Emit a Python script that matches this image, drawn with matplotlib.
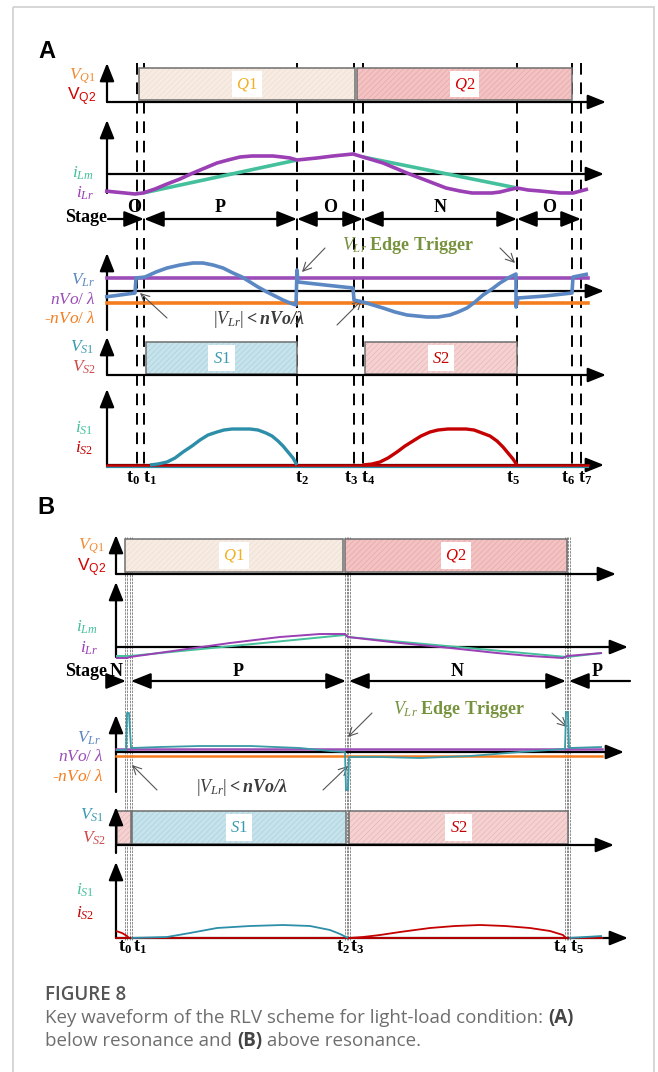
import matplotlib
matplotlib.use('Agg')
import matplotlib.pyplot as plt
from matplotlib.patches import Rectangle

plt.rcParams['mathtext.fontset'] = 'custom'
plt.rcParams['mathtext.rm'] = 'Liberation Serif'
plt.rcParams['mathtext.it'] = 'Liberation Serif:italic'
plt.rcParams['mathtext.bf'] = 'Liberation Serif:bold'
plt.rcParams['mathtext.bfit'] = 'Liberation Serif:italic:bold'
plt.rcParams['mathtext.sf'] = 'Liberation Sans'
plt.rcParams['hatch.linewidth'] = 0.35

# ---------------- data (time axis in figure pixels, values relative to row baseline) -------------
# panel A : below resonance
tA = [137, 144, 297, 354, 363, 517, 572, 581]
tA_names = ['0', '1', '2', '3', '4', '5', '6', '7']
gateA = [('Q1', 139, 355), ('Q2', 357, 572)]
rectA = [('S1', 146, 297), ('S2', 365, 517)]
stageA = [('O', 108, 144), ('P', 144, 297), ('O', 297, 363), ('N', 363, 517), ('O', 517, 581)]

iLr_A_x = [105, 135, 143, 155, 167, 180, 193, 205, 217, 228, 240, 252, 263, 273, 282, 290, 297, 307, 317, 325,
           333, 343, 353, 363, 373, 383, 395, 407, 420, 433, 446, 460, 472, 483, 492, 500, 508, 517, 528, 540,
           550, 560, 573, 588]
iLr_A = [-17, -20, -19, -15, -10, -5, 1, 6, 11, 14, 17, 18, 18, 18, 17, 16, 14, 15, 16, 17,
         18, 19, 20, 17, 14, 11, 6, 1, -4, -9, -14, -17, -19, -19, -19, -18, -16, -14, -16, -17,
         -18, -19, -19, -15]
iLm_A1_x = [143, 297]
iLm_A1 = [-19, 14]
iLm_A2_x = [363, 517]
iLm_A2 = [17, -14]

vLr_A_x = [105, 135, 136, 145, 156, 167, 180, 193, 203, 213, 223, 233, 242, 250, 258, 267, 275, 283, 290, 296,
           297, 298, 325, 353, 354, 363, 373, 383, 395, 407, 417, 427, 438, 450, 458, 467, 475, 483, 492, 500,
           508, 516, 516, 518, 545, 572, 573, 588]
vLr_A = [-6, -2, 13, 14, 19, 23, 26, 28, 28, 26, 23, 18, 14, 9, 4, -1, -5, -9, -12, -14,
         21, 9, 6, 3, -9, -11, -14, -17, -21, -24, -25, -26, -26, -24, -21, -17, -11, -4, 2, 8,
         13, 17, -16, -7, -5, -2, 14, 17]
lamA = 13
neg_lamA = -12

iS1_A_x = [150, 158, 167, 175, 183, 192, 200, 208, 217, 224, 232, 242, 250, 258, 266, 272, 278, 283, 288, 293, 297]
iS1_A = [0, 1, 3, 7, 13, 19, 25, 30, 33, 35, 36, 36, 36, 35, 32, 29, 24, 19, 13, 7, 0]
iS2_A_x = [363, 372, 380, 388, 397, 405, 413, 421, 430, 438, 448, 458, 466, 474, 482, 490, 497, 503, 508, 513, 517]
iS2_A = [0, 1, 3, 7, 13, 19, 24, 29, 33, 35, 36, 36, 36, 35, 32, 29, 24, 18, 12, 6, 0]

# panel B : above resonance
tB = [126, 131, 346, 349, 566, 569]
tB_names = ['0', '1', '2', '3', '4', '5']
gateB = [('Q1', 125, 343), ('Q2', 345, 567)]
rectB = [('', 117, 131), ('S1', 132, 346), ('S2', 349, 568)]
stageB = [('', 108, 126), ('P', 131, 346), ('N', 349, 566)]

iLr_B_x = [116, 127, 130, 180, 230, 280, 320, 345, 348, 400, 450, 497, 530, 563, 567, 602]
iLr_B = [-11, -11, -10, -3, 4, 10, 13, 13, 10, 4, -1, -6, -9, -11, -9, -6]
iLm_B_x = [116, 130, 345, 348, 567, 602]
iLm_B = [-9, -9, 12, 10, -10, -6]

vLr_B_x = [116, 126, 127, 129, 131, 160, 200, 250, 300, 330, 345, 346, 348, 349, 380, 420, 470,
           520, 550, 565, 566, 568, 569, 602]
vLr_B = [2, 2, 39, 39, 4, 5, 6, 6, 4, 1, 0, -38, -38, -5, -5, -6, -4, 0, 2, 3, 40, 40, 4, 5]
lamB = 3
neg_lamB = -4

iS2a_B_x = [116, 122, 127, 129]
iS2a_B = [7, 5, 2, 0]
iS1_B_x = [131, 150, 167, 190, 217, 250, 283, 310, 330, 340, 348]
iS1_B = [0, 0.5, 1, 5, 10, 12, 13, 12, 8, 4, 0]
iS2_B_x = [349, 363, 380, 400, 430, 455, 480, 505, 530, 550, 563, 566]
iS2_B = [0, 1, 3, 6, 10, 12, 13, 12, 10, 7, 3, 0]
iS1b_B_x = [569, 602]
iS1b_B = [0, 2]

# colours
C_Q1 = '#f28a30'
C_Q2 = '#d40000'
C_LM = '#45c09c'
C_LR = '#9a3fb4'
C_VLR = '#5b87c2'
C_LAM = '#9b4db8'
C_NLAM = '#f57d1f'
C_S1 = '#2c8ea8'
C_S2 = '#c40000'
C_EDGE = '#76923c'

fig = plt.figure(figsize=(6.58, 10.72), dpi=100)
ax = fig.add_axes([0, 0, 1, 1])
ax.set_xlim(0, 658)
ax.set_ylim(1072, 0)
ax.axis('off')

ax.add_patch(Rectangle((13, 7), 641, 1080, fill=False, ec='#cfcfcf', lw=1.2))


def arrow(x0, y0, x1, y1, lw=1.6):
    ax.annotate('', xy=(x1, y1), xytext=(x0, y0),
                arrowprops=dict(arrowstyle='-|>,head_length=0.55,head_width=0.22', lw=lw,
                                color='black', shrinkA=0, shrinkB=0, mutation_scale=20))


def darrow(x0, x1, y, heads='<|-|>'):
    ax.annotate('', xy=(x1, y), xytext=(x0, y),
                arrowprops=dict(arrowstyle=heads + ',head_length=0.6,head_width=0.24', lw=1.6,
                                color='black', shrinkA=0, shrinkB=0, mutation_scale=20))


def thin_arrow(x0, y0, x1, y1):
    ax.annotate('', xy=(x1, y1), xytext=(x0, y0),
                arrowprops=dict(arrowstyle='->,head_length=0.5,head_width=0.25', lw=0.8,
                                color='#555555', shrinkA=0, shrinkB=0, mutation_scale=12))


def wave(xs, vals, base, color, lw):
    ax.plot(xs, [base - v for v in vals], color=color, lw=lw, solid_capstyle='butt',
            solid_joinstyle='round', zorder=4)


def block(x0, x1, y0, y1, fc, hc, name, tcolor):
    ax.add_patch(Rectangle((x0, y0), x1 - x0, y1 - y0, fc=fc, ec=hc, lw=0, hatch='//////', zorder=2))
    ax.add_patch(Rectangle((x0, y0), x1 - x0, y1 - y0, fill=False, ec='#6e6e6e', lw=1.1, zorder=3))
    if name:
        ax.text((x0 + x1) / 2, (y0 + y1) / 2, r'$\mathit{%s}$' % name, color=tcolor, fontsize=12,
                ha='center', va='center', zorder=5,
                bbox=dict(fc='white', ec='none', pad=3))


def lab(x, y, s, color, size=12.5, **kw):
    ax.text(x, y, s, color=color, fontsize=size, ha='right', va='center',
            fontfamily='Liberation Serif', **kw)


serif_bold = dict(fontfamily='Liberation Serif', fontweight='bold', color='black')
fill_q = [('#f7ece3', '#eed8c8'), ('#f3c2c2', '#e59e9e')]
fill_s1 = ('#c6e2ea', '#9fcddb')
fill_s2 = ('#f5d2d2', '#e6a9a9')

# ======================= panel A =======================
ax.text(38, 51, 'A', fontsize=17, fontweight='bold', fontfamily='Liberation Sans', va='center')
xa = 107
rA = dict(q=102, il=174, st=219, v=291, vs=375, iS=465)

for t in tA:
    ax.plot([t, t], [63, 466], color='black', lw=1.4, dashes=(6, 4), zorder=1)

# gate signals
for (nm, x0, x1), (fc, hc), tc in zip(gateA, fill_q, ['#f0b020', C_Q2]):
    block(x0, x1, 68, 100, fc, hc, nm, tc)
arrow(xa, rA['q'], xa, 63)
arrow(xa, rA['q'], 606, rA['q'])
lab(96, 76, r'$\mathit{V}_{\mathit{Q1}}$', C_Q1)
lab(96, 97, r'$\mathsf{V}_{\mathsf{Q2}}$', C_Q2)

# currents
arrow(xa, 193, xa, 120)
arrow(xa, rA['il'], 604, rA['il'])
wave(iLm_A1_x, iLm_A1, rA['il'], C_LM, 2.6)
wave(iLm_A2_x, iLm_A2, rA['il'], C_LM, 2.6)
wave(iLr_A_x, iLr_A, rA['il'], C_LR, 2.6)
lab(94, 173, r'$\mathit{i}_{\mathit{Lm}}$', C_LM)
lab(94, 193, r'$\mathit{i}_{\mathit{Lr}}$', C_LR)

# stages
ax.text(65, 218, 'Stage', fontsize=13, ha='left', va='center', **serif_bold)
for i, (nm, x0, x1) in enumerate(stageA):
    darrow(x0, x1, rA['st'], '-|>' if i == 0 else '<|-|>')
    ax.text((x0 + x1) / 2 + (8 if i == 0 else 0), 208, nm, fontsize=13, ha='center', va='center', **serif_bold)

# resonant voltage
arrow(xa, 330, xa, 253)
arrow(xa, rA['v'], 604, rA['v'])
ax.plot([xa, 588], [rA['v'] - lamA] * 2, color=C_LAM, lw=2.6, zorder=3)
ax.plot([xa, 588], [rA['v'] - neg_lamA] * 2, color=C_NLAM, lw=2.6, zorder=3)
wave(vLr_A_x, vLr_A, rA['v'], C_VLR, 2.6)
lab(95, 280, r'$\mathit{V}_{\mathit{Lr}}$', C_VLR)
lab(96, 300, r'$\mathit{nVo/\ \lambda}$', C_LAM)
lab(96, 319, r'-$\mathit{nVo/\ \lambda}$', C_NLAM, fontstyle='italic')
ax.text(342, 245, r'$\mathit{V}_{\mathit{Lr}}$ Edge Trigger', fontsize=13, color=C_EDGE,
        fontfamily='Liberation Serif', fontweight='bold', va='center')
ax.text(213, 319, r'$|\mathit{V}_{\mathit{Lr}}|\mathbf{<}\mathbfit{nVo/\lambda}$', fontsize=13,
        color='#3c3c3c', va='center')
thin_arrow(325, 248, 302, 272)
thin_arrow(167, 318, 140, 293)
thin_arrow(500, 248, 515, 263)
thin_arrow(337, 325, 362, 300)

# rectifier gates
for (nm, x0, x1), (fc, hc), tc in zip(rectA, [fill_s1, fill_s2], ['#3a9ab0', C_S2]):
    block(x0, x1, 342, 374, fc, hc, nm, tc)
arrow(xa, rA['vs'], xa, 337)
arrow(xa, rA['vs'], 606, rA['vs'])
lab(94, 347, r'$\mathit{V}_{\mathit{S1}}$', '#3a9ab0')
lab(96, 367, r'$\mathit{V}_{\mathit{S2}}$', '#d04848')

# rectifier currents
arrow(xa, rA['iS'], xa, 389)
arrow(xa, rA['iS'], 604, rA['iS'])
ax.plot([xa, 588], [rA['iS'] + 1.5] * 2, color=C_S1, lw=1.6, zorder=3)
ax.plot([xa, 588], [rA['iS']] * 2, color=C_S2, lw=1.8, zorder=3)
wave(iS1_A_x, iS1_A, rA['iS'], C_S1, 2.4)
wave(iS2_A_x, iS2_A, rA['iS'], C_S2, 2.4)
lab(93, 428, r'$\mathit{i}_{\mathit{S1}}$', C_LM)
lab(93, 448, r'$\mathit{i}_{\mathit{S2}}$', C_S2)

offA = [-4, 6, 5, -3, 5, -4, -4, 4]
for t, n, o in zip(tA, tA_names, offA):
    ax.text(t + o, 478, r'$\mathbf{t}_{\mathbf{%s}}$' % n, fontsize=13, ha='center', va='center')

# ======================= panel B =======================
ax.text(37, 507, 'B', fontsize=17, fontweight='bold', fontfamily='Liberation Sans', va='center')
xb = 116
rB = dict(q=574, il=647, st=681, v=752, vs=845, iS=938)

for t in tB:
    for dx in (-1.1, 1.1):
        ax.plot([t + dx, t + dx], [537, 940], color='#8a8a8a', lw=0.7, dashes=(2.5, 1), zorder=1)

for (nm, x0, x1), (fc, hc), tc in zip(gateB, fill_q, ['#f0b020', C_Q2]):
    block(x0, x1, 539, 572, fc, hc, nm, tc)
arrow(xb, rB['q'], xb, 535)
arrow(xb, rB['q'], 616, rB['q'])
lab(105, 546, r'$\mathit{V}_{\mathit{Q1}}$', C_Q1)
lab(106, 568, r'$\mathsf{V}_{\mathsf{Q2}}$', C_Q2)

arrow(xb, 657, xb, 582)
arrow(xb, rB['il'], 628, rB['il'])
wave(iLm_B_x, iLm_B, rB['il'], C_LM, 1.4)
wave(iLr_B_x, iLr_B, rB['il'], C_LR, 1.4)
lab(98, 627, r'$\mathit{i}_{\mathit{Lm}}$', C_LM)
lab(98, 648, r'$\mathit{i}_{\mathit{Lr}}$', C_LR)

ax.text(65, 671, 'Stage', fontsize=13, ha='left', va='center', **serif_bold)
ax.text(116, 671, 'N', fontsize=13, ha='center', va='center', **serif_bold)
for i, (nm, x0, x1) in enumerate(stageB):
    darrow(x0, x1, rB['st'], '-|>' if i == 0 else '<|-|>')
    if nm:
        ax.text((x0 + x1) / 2, 672, nm, fontsize=13, ha='center', va='center', **serif_bold)
darrow(630, tB[-1], rB['st'], '-|>')
ax.text(597, 672, 'P', fontsize=13, ha='center', va='center', **serif_bold)

arrow(xb, 792, xb, 715)
arrow(xb, rB['v'], 624, rB['v'])
ax.plot([xb, 602], [rB['v'] - lamB] * 2, color=C_LAM, lw=1.8, zorder=3)
ax.plot([xb, 602], [rB['v'] - neg_lamB] * 2, color=C_NLAM, lw=1.8, zorder=3)
wave(vLr_B_x, vLr_B, rB['v'], '#3a9aa6', 1.3)
lab(101, 738, r'$\mathit{V}_{\mathit{Lr}}$', C_VLR)
lab(104, 757, r'$\mathit{nVo/\ \lambda}$', C_LAM)
lab(104, 777, r'-$\mathit{nVo/\ \lambda}$', C_NLAM, fontstyle='italic')
ax.text(393, 710, r'$\mathit{V}_{\mathit{Lr}}$ Edge Trigger', fontsize=13, color=C_EDGE,
        fontfamily='Liberation Serif', fontweight='bold', va='center')
ax.text(196, 788, r'$|\mathit{V}_{\mathit{Lr}}|\mathbf{<}\mathbfit{nVo/\lambda}$', fontsize=13,
        color='#3c3c3c', va='center')
thin_arrow(372, 713, 348, 737)
thin_arrow(552, 713, 567, 727)
thin_arrow(157, 790, 132, 765)
thin_arrow(323, 790, 348, 766)

for (nm, x0, x1), (fc, hc), tc in zip(rectB, [fill_s2, fill_s1, fill_s2], [C_S2, '#3a9ab0', C_S2]):
    block(x0, x1, 811, 844, fc, hc, nm, tc)
arrow(xb, 853, xb, 807)
arrow(xb, rB['vs'], 614, rB['vs'])
lab(104, 815, r'$\mathit{V}_{\mathit{S1}}$', '#3a9ab0')
lab(106, 838, r'$\mathit{V}_{\mathit{S2}}$', '#d04848')

arrow(xb, rB['iS'], xb, 862)
arrow(xb, rB['iS'], 628, rB['iS'])
ax.plot([xb, 602], [rB['iS']] * 2, color=C_S2, lw=1.3, zorder=3)
wave(iS2a_B_x, iS2a_B, rB['iS'], C_S2, 1.3)
wave(iS1_B_x, iS1_B, rB['iS'], C_S1, 1.3)
wave(iS2_B_x, iS2_B, rB['iS'], C_S2, 1.3)
wave(iS1b_B_x, iS1b_B, rB['iS'], C_S1, 1.3)
lab(94, 890, r'$\mathit{i}_{\mathit{S1}}$', C_LM)
lab(94, 913, r'$\mathit{i}_{\mathit{S2}}$', C_S2)

offB = [-1, 9, -3, 8, -6, 8]
for t, n, o in zip(tB, tB_names, offB):
    ax.text(t + o, 947, r'$\mathbf{t}_{\mathbf{%s}}$' % n, fontsize=13, ha='center', va='center')

# ======================= caption =======================
ax.text(45, 995, 'FIGURE 8', fontsize=13.5, fontfamily='Open Sans', fontweight='semibold',
        color='#555555', va='center')

renderer = fig.canvas.get_renderer()


def parts(x, y, items):
    for s, w in items:
        t = ax.text(x, y, s, fontsize=13.5, fontfamily='Open Sans', fontweight=w,
                    color='#6e6e6e' if w == 'normal' else '#444444', va='center')
        x += t.get_window_extent(renderer=renderer).width


parts(45, 1018, [('Key waveform of the RLV scheme for light-load condition: ', 'normal'), ('(A)', 'bold')])
parts(45, 1041, [('below resonance and ', 'normal'), ('(B)', 'bold'), (' above resonance.', 'normal')])

fig.savefig('out.png', dpi=100)
